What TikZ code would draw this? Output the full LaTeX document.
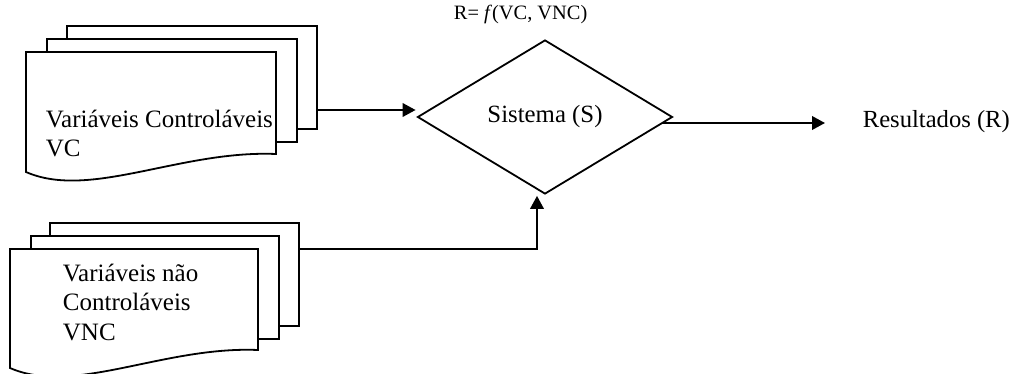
\documentclass[tikz,border=0pt]{standalone}
\usepackage{fontspec}
\setmainfont{Liberation Serif}
\usetikzlibrary{shapes.geometric,arrows.meta,calc}
\begin{document}
\begin{tikzpicture}[x=0.5pt,y=-0.5pt,
  line width=0.9pt,
  sheet/.style={draw,fill=white,rectangle,inner sep=0pt,anchor=north west,
    minimum width=125pt,minimum height=51.5pt},
  doctext/.style={inner sep=0pt,anchor=base west,align=left,
    font=\fontsize{12.5}{14.75}\selectfont},
  sysbox/.style={draw,diamond,inner sep=0pt,minimum width=127.5pt,
    minimum height=77pt,font=\fontsize{12.4}{14}\selectfont},
  arr/.style={-{Triangle[length=6.5pt,width=6.8pt]}}]
\useasboundingbox (0,0) rectangle (1013,374);
% upper stack
\node[sheet] (vcB) at (66,25) {};
\node[sheet] (vcM) at (46,38.5) {};
\draw[fill=white] (26,52) -- (276,52) -- (276,154)
  .. controls (180,150) and (90,200) .. (26,172) -- cycle;
\node[doctext] (vc) at (45,157) {Variáveis Controláveis\\VC};
% lower stack
\node[sheet,minimum width=124.5pt] (vncB) at (49,222) {};
\node[sheet,minimum width=124pt] (vncM) at (30,235) {};
\draw[fill=white] (10,249) -- (258,249) -- (258,350)
  .. controls (163,346) and (74,396) .. (10,368) -- cycle;
\node[doctext] (vnc) at (62,340) {Variáveis não\\Controláveis\\VNC};
% system
\node[sysbox] (S) at (545,117) {Sistema (S)};
\node[inner sep=0pt,anchor=base west,font=\fontsize{10.2}{12}\selectfont]
  (fn) at (453,20) {R= \textit{f}(VC, VNC)};
\node[inner sep=0pt,anchor=base west,font=\fontsize{12.3}{14}\selectfont]
  (R) at (862,128) {Resultados (R)};
% connectors
\draw[arr] (vcB.east |- 0,110) -- ($(S.west)+(-1,-7)$);
\draw[arr] (vncB.east |- 0,249) -| ($(S.south)+(-8,1)$);
\draw[arr] ($(S.east)+(-11,6)$) -- ($(R.base west)+(-37,-5)$);
\end{tikzpicture}
\end{document}
